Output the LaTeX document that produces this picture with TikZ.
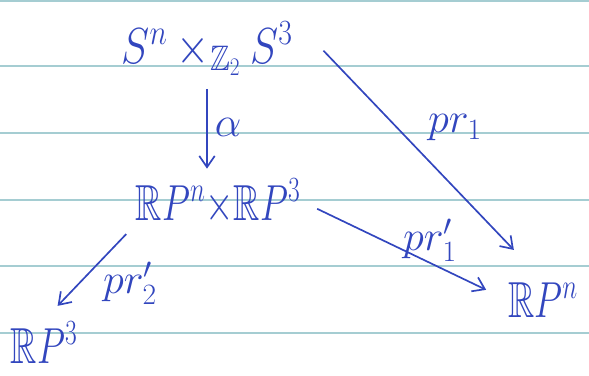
\RequirePackage{fix-cm}
\documentclass[tikz,border=0pt]{standalone}
\usepackage{amssymb}
\usetikzlibrary{arrows.meta, positioning}
\definecolor{INK}{RGB}{50,70,190}
\definecolor{RULE}{RGB}{165,205,210}
\newcommand{\hand}[2][0.72]{\scalebox{#1}[1]{#2}}

\begin{document}
\begin{tikzpicture}[x=0.025cm, y=-0.025cm,
  obj/.style={text=INK, font=\fontsize{36}{42}\selectfont, inner sep=1pt, anchor=base},
  arr/.style={-{Straight Barb[length=8pt,width=11pt]}, line width=1.2pt, draw=INK},
  lbl/.style={text=INK, font=\fontsize{30}{36}\selectfont, inner sep=1pt}
]
\useasboundingbox (0,0) rectangle (589,375);
% ruled paper
\foreach \y in {1,66,133,200,266,333}
  \draw[RULE, line width=0.8pt] (0,\y) -- (589,\y);

\node[obj] (top) at (207,63)  {\hand[0.84]{$S^n \times_{\mathbb{Z}_2} S^3$}};
\node[obj] (mid) at (218,220) {\hand{$\mathbb{R}P^n{\times}\mathbb{R}P^3$}};
\node[obj] (rpt) at (44,363)  {\hand{$\mathbb{R}P^3$}};
\node[obj] (rpn) at (543,317) {\hand{$\mathbb{R}P^n$}};

\draw[arr, shorten <=8pt, shorten >=6pt] (top.south) -- (top.south |- mid.north)
  node[midway, right=4pt, lbl]{$\alpha$};
\draw[arr, shorten <=30pt, shorten >=30pt] (top.north east) -- (rpn.north);
\draw[arr, shorten <=12pt, shorten >=16pt] (mid.east) -- (rpn.west);
\draw[arr, shorten <=8pt, shorten >=14pt] (mid.south west) -- (rpt.north);

\node[lbl] at (455,128) {$pr_1$};
\node[lbl] at (430,240) {$pr_1'$};
\node[lbl] at (130,283) {$pr_2'$};
\end{tikzpicture}
\end{document}
